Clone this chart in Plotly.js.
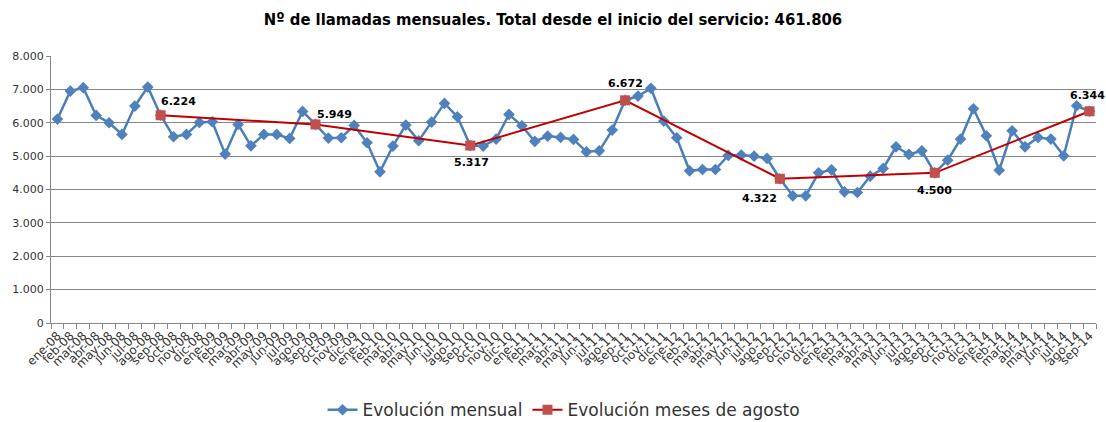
<!DOCTYPE html>
<html>
<head>
<meta charset="utf-8">
<script src="https://cdn.plot.ly/plotly-3.0.1.min.js"></script>
<style>html,body{margin:0;padding:0;background:#fff;}#chart{width:1106px;height:422px;}</style>
</head>
<body>
<div id="chart"></div>
<script>
const months = [
  "ene-08","feb-08","mar-08","abr-08","may-08","jun-08","jul-08","ago-08","sep-08","oct-08","nov-08","dic-08",
  "ene-09","feb-09","mar-09","abr-09","may-09","jun-09","jul-09","ago-09","sep-09","oct-09","nov-09","dic-09",
  "ene-10","feb-10","mar-10","abr-10","may-10","jun-10","jul-10","ago-10","sep-10","oct-10","nov-10","dic-10",
  "ene-11","feb-11","mar-11","abr-11","may-11","jun-11","jul-11","ago-11","sep-11","oct-11","nov-11","dic-11",
  "ene-12","feb-12","mar-12","abr-12","may-12","jun-12","jul-12","ago-12","sep-12","oct-12","nov-12","dic-12",
  "ene-13","feb-13","mar-13","abr-13","may-13","jun-13","jul-13","ago-13","sep-13","oct-13","nov-13","dic-13",
  "ene-14","feb-14","mar-14","abr-14","may-14","jun-14","jul-14","ago-14","sep-14"
];
const mensual = [
  6110, 6950, 7050, 6220, 6000, 5650, 6500, 7070, 6224, 5580, 5650, 6010,
  6030, 5060, 5950, 5310, 5650, 5650, 5530, 6340, 5949, 5540, 5550, 5920,
  5400, 4530, 5300, 5930, 5460, 6020, 6580, 6180, 5317, 5300, 5510, 6250,
  5910, 5440, 5600, 5560, 5500, 5130, 5160, 5780, 6672, 6800, 7030, 6050,
  5550, 4560, 4600, 4600, 5020, 5030, 5000, 4930, 4322, 3810, 3810, 4500,
  4590, 3930, 3910, 4400, 4630, 5280, 5050, 5160, 4500, 4880, 5510, 6420,
  5610, 4580, 5760, 5280, 5560, 5510, 5010, 6510, 6344
];
const agostoCats = ["sep-08","sep-09","sep-10","sep-11","sep-12","sep-13","sep-14"];
const agostoVals = [6224, 5949, 5317, 6672, 4322, 4500, 6344];
const totalServicio = "461.806";

// label offsets (style only)
const labelShift = [[18,14],[19,10],[1,-17],[0,17],[-20,-20],[0,-18],[-2,16]];

function fmt(v){ return String(v).replace(/\B(?=(\d{3})+(?!\d))/g, "."); }

const traces = [
  {
    x: months, y: mensual, type: "scatter", mode: "lines+markers",
    name: "Evolución mensual",
    line: {color: "#4A7EBB", width: 2.5},
    marker: {symbol: "diamond", size: 9, color: "#4F81BD"}
  },
  {
    x: agostoCats, y: agostoVals, type: "scatter", mode: "lines+markers",
    name: "Evolución meses de agosto",
    line: {color: "#C00000", width: 2},
    marker: {symbol: "square", size: 10, color: "#C0504D"}
  }
];

const annotations = agostoCats.map((c, i) => ({
  x: c, y: agostoVals[i], xref: "x", yref: "y", showarrow: false,
  text: "<b>" + fmt(agostoVals[i]) + "</b>",
  xshift: labelShift[i][0], yshift: labelShift[i][1],
  font: {family: "'DejaVu Sans', sans-serif", size: 11, color: "#000"}
}));

const layout = {
  width: 1106, height: 422,
  margin: {l: 51, r: 10, t: 56, b: 99, autoexpand: false},
  paper_bgcolor: "#fff", plot_bgcolor: "#fff",
  separators: ",.",
  title: {
    text: "<b>Nº de llamadas mensuales. Total desde el inicio del servicio: " + totalServicio + "</b>",
    x: 0.5, xanchor: "center", y: 0.955, yanchor: "middle",
    font: {family: "'DejaVu Sans Condensed', 'DejaVu Sans', sans-serif", size: 16.5, color: "#000"}
  },
  xaxis: {
    type: "category", categoryorder: "array", categoryarray: months,
    tickmode: "array", tickvals: months, ticktext: months,
    range: [-0.5, months.length - 0.5],
    tickangle: -45, tickson: "boundaries",
    ticks: "outside", ticklen: 5, tickcolor: "#868686",
    showline: true, linecolor: "#868686", linewidth: 1,
    showgrid: false, zeroline: false, automargin: false,
    tickfont: {family: "'DejaVu Sans', sans-serif", size: 12, color: "#333"}
  },
  yaxis: {
    range: [0, 8000], dtick: 1000, tickformat: ",d",
    showgrid: true, gridcolor: "#868686", gridwidth: 1,
    showline: true, linecolor: "#868686", linewidth: 1,
    ticks: "outside", ticklen: 4, tickcolor: "#868686",
    zeroline: false, automargin: false,
    tickfont: {family: "'DejaVu Sans', sans-serif", size: 11, color: "#333"}
  },
  legend: {
    orientation: "h", xref: "container", x: 0.51, xanchor: "center",
    yref: "container", y: 0.028, yanchor: "middle",
    font: {family: "'DejaVu Sans', sans-serif", size: 17, color: "#333"},
    itemwidth: 30
  },
  annotations: annotations,
  showlegend: true
};

Plotly.newPlot("chart", traces, layout, {displayModeBar: false, staticPlot: true});
</script>
</body>
</html>
